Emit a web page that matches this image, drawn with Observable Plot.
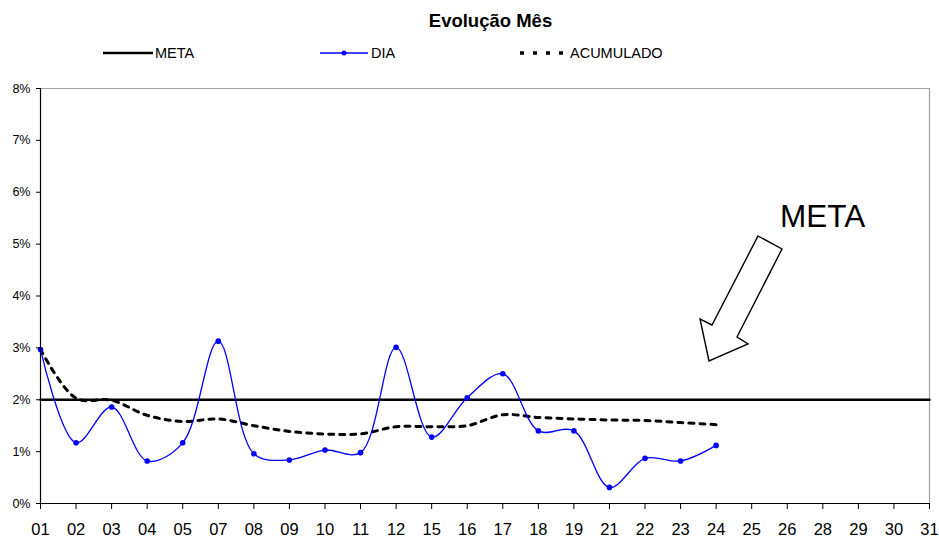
<!DOCTYPE html>
<html><head><meta charset="utf-8">
<script src="https://cdn.jsdelivr.net/npm/d3@7"></script>
<script src="https://cdn.jsdelivr.net/npm/@observablehq/plot@0.6"></script>
<style>
body{margin:0;background:#fff;font-family:"Liberation Sans",Arial,sans-serif;overflow:hidden;}
#wrap{position:relative;width:939px;height:538px;overflow:hidden;}
#wrap svg.plot{position:absolute;left:0;top:0;}
.title{position:absolute;left:0;width:981px;top:10px;text-align:center;font-weight:bold;font-size:18.5px;color:#000;}
.leg{position:absolute;top:44px;font-size:14.5px;color:#000;display:flex;align-items:center;height:18px;}
.leg svg{display:block;}
</style></head><body>
<div id="wrap"></div>
<script>
const days = ["01","02","03","04","05","07","08","09","10","11","12","15","16","17","18","19","21","22","23","24","25","26","28","29","30","31"];
const diaDays = ["01","02","03","04","05","07","08","09","10","11","12","15","16","17","18","19","21","22","23","24"];
const dia = [2.97,1.17,1.86,0.82,1.17,3.13,0.96,0.84,1.03,0.98,3.01,1.28,2.04,2.50,1.40,1.40,0.31,0.87,0.82,1.12];
const acumulado = [2.97,2.03,1.99,1.70,1.58,1.63,1.50,1.39,1.34,1.34,1.48,1.48,1.50,1.71,1.66,1.63,1.61,1.60,1.56,1.52];
const meta = 2;
const yTicks = [0,1,2,3,4,5,6,7,8];
const seriesNames = ["META","DIA","ACUMULADO"];
const titleText = "Evolução Mês";
const annotationText = "META";

const diaRows = diaDays.map((d,i)=>({day:d, v:dia[i]}));
const acRows = diaDays.map((d,i)=>({day:d, v:acumulado[i]}));
const metaRows = days.map(d=>({day:d, v:meta}));

const chart = Plot.plot({
  width: 939, height: 538,
  marginTop: 88, marginBottom: 35, marginLeft: 40, marginRight: 10,
  style: {fontFamily: '"Liberation Sans", Arial, sans-serif', background: "#fff", color: "#000"},
  x: {type: "point", domain: days, padding: 0, round: false},
  y: {domain: [0, 8]},
  marks: [
    Plot.ruleY([8], {stroke: "#a0a0a0", strokeWidth: 1.2}),
    Plot.ruleX(["31"], {stroke: "#a0a0a0", strokeWidth: 1.2}),
    Plot.line(metaRows, {x: "day", y: "v", stroke: "#000", strokeWidth: 2.5}),
    Plot.line(acRows, {x: "day", y: "v", curve: "catmull-rom", stroke: "#000", strokeWidth: 3, strokeDasharray: "5,6"}),
    Plot.line(diaRows, {x: "day", y: "v", curve: "catmull-rom", stroke: "#0000ff", strokeWidth: 1.3}),
    Plot.dot(diaRows, {x: "day", y: "v", r: 2.8, fill: "#0000ff"}),
    Plot.ruleY([0], {stroke: "#000", strokeWidth: 1.2}),
    Plot.ruleX(["01"], {stroke: "#000", strokeWidth: 1.2}),
    Plot.axisY({ticks: yTicks, tickFormat: d => d + "%", tickSize: 4, tickPadding: 6, fontSize: 12.5, label: null}),
    Plot.axisX({tickSize: 6, tickPadding: 14, fontSize: 16.5, label: null})
  ]
});
chart.classList.add("plot");
const wrap = document.getElementById("wrap");
wrap.appendChild(chart);

// annotation arrow + text (decoration)
const svg = d3.select(chart);
const arrowShape = [[758,236],[782,249],[737,337],[748,344],[709,361],[700,319],[712,325]];
svg.append("polygon")
  .attr("points", arrowShape.map(p=>p.join(",")).join(" "))
  .attr("fill", "#fff").attr("stroke", "#000").attr("stroke-width", 1.4).attr("stroke-linejoin","miter");
svg.append("text").attr("x", 780).attr("y", 227)
  .attr("text-anchor", "start")
  .attr("font-size", 31.5).attr("fill", "#000").text(annotationText);

// title
const t = document.createElement("div");
t.className = "title"; t.textContent = titleText;
wrap.appendChild(t);

// legend
function legItem(left, swatch, label){
  const el = document.createElement("div");
  el.className = "leg"; el.style.left = left + "px";
  el.innerHTML = swatch + "<span>" + label + "</span>";
  wrap.appendChild(el);
}
legItem(103, '<svg width="52" height="18"><line x1="0" x2="50" y1="9" y2="9" stroke="#000" stroke-width="2.5"/></svg>', seriesNames[0]);
legItem(320, '<svg width="51" height="18"><line x1="0" x2="48" y1="9" y2="9" stroke="#0000ff" stroke-width="1.3"/><circle cx="24" cy="9" r="2.5" fill="#0000ff"/></svg>', seriesNames[1]);
legItem(520, '<svg width="50" height="18"><line x1="0" x2="48" y1="9" y2="9" stroke="#000" stroke-width="3.5" stroke-dasharray="4,9"/></svg>', seriesNames[2]);
</script>
</body></html>
